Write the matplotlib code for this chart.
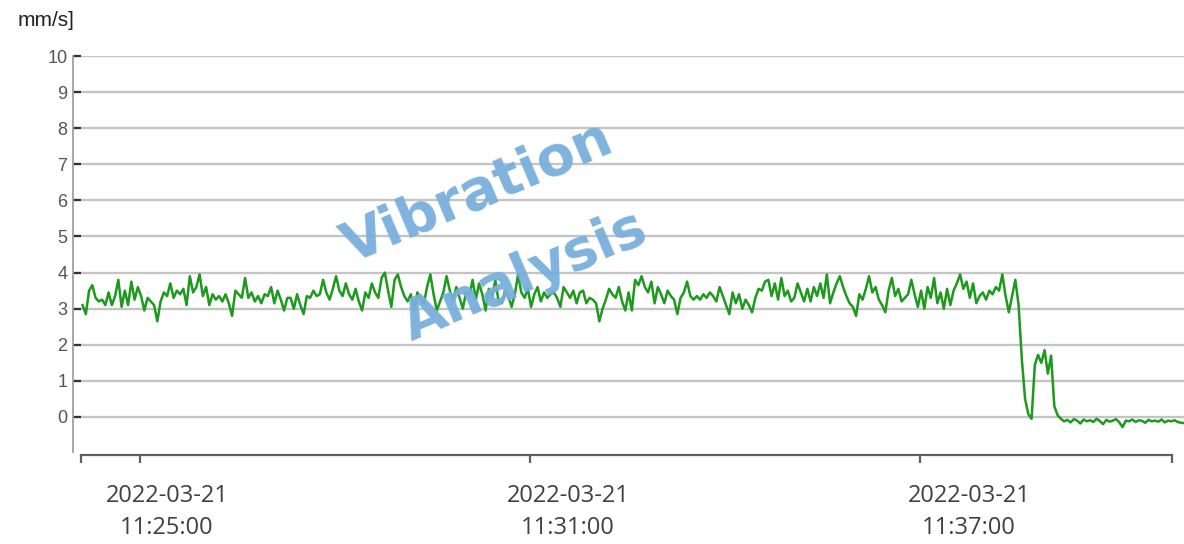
import matplotlib.pyplot as plt
import matplotlib.transforms as mtransforms
import numpy as np

# velocity readings (mm/s), one every 3 s starting ~11:24:07
running = [
    3.1, 2.85, 3.5, 3.65, 3.3, 3.2, 3.25, 3.1, 3.45, 3.1, 3.35, 3.8, 3.05, 3.5, 3.1, 3.75,
    3.25, 3.6, 3.35, 2.95, 3.3, 3.2, 3.1, 2.65, 3.2, 3.45, 3.35, 3.7, 3.3, 3.5, 3.4, 3.55,
    3.1, 3.9, 3.45, 3.6, 3.95, 3.35, 3.6, 3.1, 3.4, 3.25, 3.35, 3.2, 3.4, 3.15, 2.8, 3.5,
    3.4, 3.3, 3.85, 3.3, 3.45, 3.2, 3.35, 3.15, 3.4, 3.35, 3.6, 3.15, 3.5, 3.25, 2.95, 3.3,
    3.3, 3.0, 3.4, 3.1, 2.85, 3.35, 3.3, 3.5, 3.35, 3.4, 3.8, 3.45, 3.25, 3.55, 3.9, 3.5,
    3.35, 3.7, 3.4, 3.25, 3.55, 3.2, 2.95, 3.45, 3.3, 3.7, 3.45, 3.3, 3.85, 4.0, 3.5, 3.05,
    3.8, 3.95, 3.6, 3.35, 3.2, 3.4, 2.95, 3.45, 3.3, 3.15, 3.6, 3.95, 3.4, 2.95, 3.2, 3.45,
    3.9, 3.5, 3.25, 3.6, 3.3, 3.0, 3.45, 3.35, 3.8, 3.25, 3.7, 3.4, 2.95, 3.55, 3.3, 3.8,
    3.2, 3.15, 3.5, 3.35, 3.05, 3.4, 3.95, 3.45, 3.3, 3.55, 3.05, 3.4, 3.6, 3.2, 3.45, 3.3,
    3.4, 3.45, 3.3, 3.05, 3.6, 3.45, 3.3, 3.5, 3.15, 3.45, 3.5, 3.15, 3.3, 3.25, 3.15, 2.65,
    3.0, 3.25, 3.55, 3.4, 3.3, 3.6, 3.2, 2.95, 3.45, 2.95, 3.8, 3.65, 3.9, 3.6, 3.45, 3.75,
    3.15, 3.6, 3.4, 3.15, 3.5, 3.35, 3.25, 2.85, 3.3, 3.45, 3.75, 3.35, 3.25, 3.35, 3.25, 3.4,
    3.3, 3.45, 3.35, 3.2, 3.6, 3.35, 3.1, 2.85, 3.45, 3.15, 3.4, 3.0, 3.25, 3.1, 2.9, 3.3,
    3.55, 3.5, 3.75, 3.8, 3.35, 3.7, 3.25, 3.85, 3.35, 3.5, 3.2, 3.3, 3.7, 3.45, 3.2, 3.55,
    3.2, 3.6, 3.35, 3.7, 3.3, 3.95, 3.15, 3.45, 3.7, 3.9, 3.6, 3.35, 3.15, 3.05, 2.8, 3.4,
    3.25, 3.55, 3.9, 3.45, 3.6, 3.25, 3.1, 2.9, 3.5, 3.85, 3.35, 3.55, 3.2, 3.3, 3.4, 3.8,
    3.4, 3.05, 3.5, 3.0, 3.6, 3.3, 3.85, 3.15, 3.45, 3.0, 3.55, 3.1, 3.5, 3.7, 3.95, 3.55,
    3.75, 3.3, 3.7, 3.15, 3.35, 3.45, 3.25, 3.5, 3.4, 3.6, 3.5, 3.95, 3.35, 2.9, 3.35, 3.8,
]
shutdown = [
    3.1, 1.6, 0.5, 0.08, -0.05, 1.45, 1.72, 1.5, 1.85, 1.2, 1.7, 0.3, 0.05,
    -0.05, -0.12, -0.08, -0.15, -0.06, -0.1, -0.18, -0.07, -0.12, -0.09, -0.14, -0.05, -0.11,
    -0.2, -0.08, -0.13, -0.1, -0.06, -0.15, -0.28, -0.1, -0.12, -0.07, -0.14, -0.09, -0.11,
    -0.16, -0.08, -0.12, -0.1, -0.13, -0.07, -0.15, -0.1, -0.12, -0.09, -0.14, -0.16, -0.17,
]
velocity = running + shutdown

t_start = -53          # seconds relative to 11:25:00
t_step = 3
tick_secs = [0, 360, 720]
tick_labels = ["2022-03-21\n11:25:00", "2022-03-21\n11:31:00", "2022-03-21\n11:37:00"]
label_shift_px = [27, 38, 49]   # labels sit a bit right of their ticks in the original
y_ticks = list(range(0, 11))

t = t_start + t_step * np.arange(len(velocity))

W, H = 1184, 544
fig = plt.figure(figsize=(W / 100, H / 100), dpi=100)
ax = fig.add_axes([73 / W, 1 - 452 / H, 1 - 73 / W, (452 - 56) / H])

ax.plot(t, velocity, color="#1d9a1d", lw=1.8, zorder=3)
ax.set_xlim((73 - 140) / 65 * 60, (1184 - 140) / 65 * 60)
ax.set_ylim(-0.97, 10)
ax.set_yticks(y_ticks)
ax.set_xticks([])
ax.yaxis.grid(True, color="#c4c4c4", lw=1.7)
for s in ["top", "right", "bottom"]:
    ax.spines[s].set_visible(False)
ax.spines["left"].set_color("#a0a0a0")
ax.spines["left"].set_linewidth(1.3)
ax.tick_params(axis="y", direction="in", length=6, width=1.6, color="#333333",
               pad=4, labelsize=13, labelcolor="#555555")
for lab in ax.get_yticklabels():
    lab.set_fontfamily("Liberation Sans")

# separate time axis drawn below the plot
axx = fig.add_axes([81 / W, 1 - 455 / H, (1172 - 81) / W, 0.0001])
x0 = (81 - 140) / 65 * 60
x1 = (1172 - 140) / 65 * 60
axx.set_xlim(x0, x1)
axx.set_yticks([])
for s in ["top", "right", "left"]:
    axx.spines[s].set_visible(False)
axx.spines["bottom"].set_color("#606060")
axx.spines["bottom"].set_linewidth(1.6)
axx.set_xticks([x0] + tick_secs + [x1])
axx.set_xticklabels([])
axx.tick_params(axis="x", length=6, width=1.6, color="#606060")
axx.patch.set_visible(False)

for sec, lab, dx in zip(tick_secs, tick_labels, label_shift_px):
    tr = mtransforms.blended_transform_factory(axx.transData, fig.transFigure)
    tr = mtransforms.offset_copy(tr, fig=fig, x=dx, y=0, units="dots")
    axx.text(sec, 1 - 512 / H, lab, transform=tr, ha="center", va="center",
             multialignment="center", family="Open Sans", fontsize=17,
             color="#404040", linespacing=1.5)

fig.text(18 / W, 1 - 21 / H, "mm/s]", fontsize=15, family="Liberation Sans",
         color="#222222", va="center", ha="left")

# watermark
wm = dict(fontsize=40, fontweight="bold", family="DejaVu Sans", color="#78aedb",
          rotation=23, rotation_mode="anchor", ha="center", va="center", alpha=0.95)
fig.text(478 / W, 1 - 193 / H, "Vibration", **wm)
fig.text(525 / W, 1 - 276 / H, "Analysis", **wm)

fig.savefig("out.png", dpi=100)
